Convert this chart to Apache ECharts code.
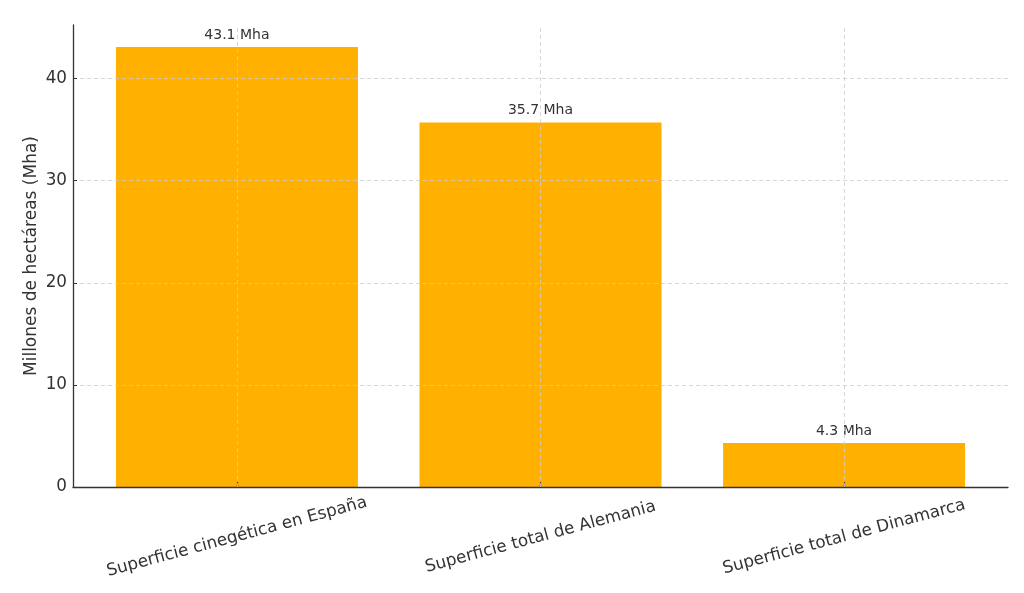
<!DOCTYPE html>
<html>
<head>
<meta charset="utf-8">
<script src="https://cdn.jsdelivr.net/npm/echarts@6/dist/echarts.min.js"></script>
<style>html,body{margin:0;padding:0;background:#fff}#c{width:1024px;height:593px}</style>
</head>
<body>
<div id="c"></div>
<script>
const categories = ["Superficie cinegética en España", "Superficie total de Alemania", "Superficie total de Dinamarca"];
const values = [43.1, 35.7, 4.3];
const valueLabels = ["43.1 Mha", "35.7 Mha", "4.3 Mha"];
const yTicks = [0, 10, 20, 30, 40];
const yName = "Millones de hectáreas (Mha)";

const positions = categories.map((c, i) => i);
const FONT = "DejaVu Sans";
const chart = echarts.init(document.getElementById('c'));
chart.setOption({
  animation: false,
  backgroundColor: '#fff',
  textStyle: { fontFamily: FONT },
  grid: { left: 73, right: 16, top: 25, bottom: 106, containLabel: false },
  xAxis: {
    type: 'value', min: -0.54, max: 2.54, z: 3,
    axisLine: { show: true, onZero: false, lineStyle: { color: '#333', width: 1.3 } },
    axisTick: { show: true, inside: true, length: 5, customValues: positions, lineStyle: { color: '#333', width: 1.2 } },
    axisLabel: {
      customValues: positions, rotate: 15, align: 'center', verticalAlign: 'middle', margin: 50,
      fontSize: 16.8, color: '#333', fontFamily: FONT,
      formatter: v => categories[Math.round(v)] || ''
    },
    splitLine: { show: false }
  },
  yAxis: {
    type: 'value', min: 0, max: 45.255, interval: 10, z: 3,
    name: yName, nameLocation: 'middle', nameGap: 33, nameMoveOverlap: false,
    nameTextStyle: { fontSize: 17, color: '#333', fontFamily: FONT },
    axisLine: { show: true, onZero: false, lineStyle: { color: '#333', width: 1.3 } },
    axisTick: { show: true, inside: true, length: 4, lineStyle: { color: '#333' } },
    axisLabel: { fontSize: 16.8, color: '#333', margin: 6, fontFamily: FONT, showMaxLabel: false,
      formatter: v => yTicks.includes(v) ? String(v) : '' },
    splitLine: { show: true, showMaxLine: false, lineStyle: { color: '#ccc', type: [4, 3], width: 0.8 } }
  },
  series: [{
    type: 'bar',
    barWidth: 242,
    itemStyle: { color: '#FFB000' },
    data: values.map((v, i) => [positions[i], v]),
    label: {
      show: true, position: 'top', distance: 5, fontSize: 14, color: '#333', fontFamily: FONT,
      formatter: p => valueLabels[p.dataIndex]
    },
    markLine: {
      silent: true, symbol: 'none', z: 4, label: { show: false },
      lineStyle: { color: '#ccc', type: [4, 3], width: 0.8 },
      data: positions.map(p => ({ xAxis: p }))
    }
  }]
});
</script>
</body>
</html>
